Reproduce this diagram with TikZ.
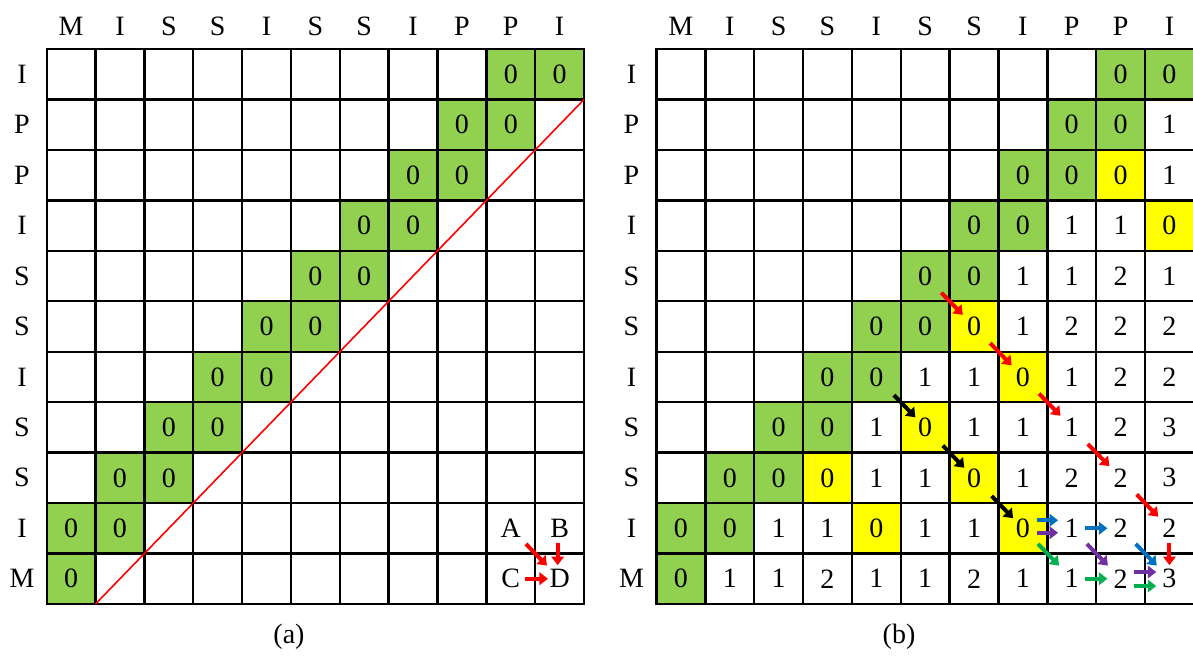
\documentclass[tikz,border=0pt]{standalone}
\usepackage{fontspec}
\setmainfont{Liberation Serif}
\usetikzlibrary{arrows.meta,calc}
\definecolor{cgreen}{HTML}{92D050}
\definecolor{cyellow}{HTML}{FFFF00}
\definecolor{ablue}{HTML}{0070C0}
\definecolor{apurple}{HTML}{7030A0}
\definecolor{agreen}{HTML}{00B050}
\definecolor{ared}{HTML}{FF0000}
\begin{document}
\begin{tikzpicture}[x=1pt,y=-1pt,
  cell/.style={draw=black, line width=2.4pt, minimum width=48.85pt, minimum height=50.45pt,
    inner sep=0pt, outer sep=0pt, font=\fontsize{28}{30}\selectfont},
  ve/.style={node contents={}},
  vg/.style={fill=cgreen, node contents={0}},
  vy/.style={fill=cyellow, node contents={0}},
  v1/.style={node contents={1}},
  v2/.style={node contents={2}},
  v3/.style={node contents={3}},
  vA/.style={node contents={A}},
  vB/.style={node contents={B}},
  vC/.style={node contents={C}},
  vD/.style={node contents={D}},
  lab/.style={font=\fontsize{28}{30}\selectfont, inner sep=0pt},
  arr/.style={line width=4pt, -{Triangle[width=12.5pt,length=8.5pt]}},
  diag/.style={ared, line width=1.6pt},
]
\useasboundingbox (0,0) rectangle (1193,656);
\def\cw{48.85}
\def\ch{50.45}
\def\yo{49}
% ---------- grid (a)
\def\xa{46.7}
\foreach \row [count=\r] in {
  {e,e,e,e,e,e,e,e,e,g,g},
  {e,e,e,e,e,e,e,e,g,g,e},
  {e,e,e,e,e,e,e,g,g,e,e},
  {e,e,e,e,e,e,g,g,e,e,e},
  {e,e,e,e,e,g,g,e,e,e,e},
  {e,e,e,e,g,g,e,e,e,e,e},
  {e,e,e,g,g,e,e,e,e,e,e},
  {e,e,g,g,e,e,e,e,e,e,e},
  {e,g,g,e,e,e,e,e,e,e,e},
  {g,g,e,e,e,e,e,e,e,A,B},
  {g,e,e,e,e,e,e,e,e,C,D}} {
  \foreach \v [count=\c] in \row {
    \node (a-\r-\c) at ({\xa+(\c-0.5)*\cw},{\yo+(\r-0.5)*\ch}) [cell, v\v];
  }
}
% ---------- grid (b)
\def\xb{656.5}
\foreach \row [count=\r] in {
  {e,e,e,e,e,e,e,e,e,g,g},
  {e,e,e,e,e,e,e,e,g,g,1},
  {e,e,e,e,e,e,e,g,g,y,1},
  {e,e,e,e,e,e,g,g,1,1,y},
  {e,e,e,e,e,g,g,1,1,2,1},
  {e,e,e,e,g,g,y,1,2,2,2},
  {e,e,e,g,g,1,1,y,1,2,2},
  {e,e,g,g,1,y,1,1,1,2,3},
  {e,g,g,y,1,1,y,1,2,2,3},
  {g,g,1,1,y,1,1,y,1,2,2},
  {g,1,1,2,1,1,2,1,1,2,3}} {
  \foreach \v [count=\c] in \row {
    \node (b-\r-\c) at ({\xb+(\c-0.5)*\cw},{\yo+(\r-0.5)*\ch}) [cell, v\v];
  }
}
% ---------- labels
\foreach \t [count=\c] in {M,I,S,S,I,S,S,I,P,P,I} {
  \node[lab] (ha-\c) at ({\xa+(\c-0.5)*\cw},26) {\t};
  \node[lab] (hb-\c) at ({\xb+(\c-0.5)*\cw},26) {\t};
}
\foreach \t [count=\r] in {I,P,P,I,S,S,I,S,S,I,M} {
  \node[lab] (ra-\r) at (22,{\yo+(\r-0.5)*\ch}) {\t};
  \node[lab] (rb-\r) at (631.5,{\yo+(\r-0.5)*\ch}) {\t};
}
\node[lab] (capa) at (289,637) {(a)};
\node[lab] (capb) at (899,637) {(b)};
% ---------- (a) diagonal line and arrows
\draw[diag] (a-11-1.south east) -- (a-1-11.south east);
\draw[arr, ared] ($(a-10-10)!0.31!(a-11-11)$) -- ($(a-10-10)!0.74!(a-11-11)$);
\draw[arr, ared] ($(a-10-11)!0.29!(a-11-11)+(-2,0)$) -- ($(a-10-11)!0.73!(a-11-11)+(-2,0)$);
\draw[arr, ared] ($(a-11-10)!0.29!(a-11-11)$) -- ($(a-11-10)!0.76!(a-11-11)$);
% ---------- (b) arrows
\foreach \r/\c/\rr/\cc in {5/6/6/7,6/7/7/8,7/8/8/9,8/9/9/10,9/10/10/11} {
  \draw[arr, ared] ($(b-\r-\c)!0.33!(b-\rr-\cc)$) -- ($(b-\r-\c)!0.77!(b-\rr-\cc)$);
}
\draw[arr, ared] ($(b-10-11)!0.3!(b-11-11)$) -- ($(b-10-11)!0.73!(b-11-11)$);
\foreach \r/\c/\rr/\cc in {7/5/8/6,8/6/9/7,9/7/10/8} {
  \draw[arr, black] ($(b-\r-\c)!0.36!(b-\rr-\cc)$) -- ($(b-\r-\c)!0.8!(b-\rr-\cc)$);
}
\draw[arr, ablue] ($(b-10-8)!0.28!(b-10-9)+(0,-8)$) -- ($(b-10-8)!0.72!(b-10-9)+(0,-8)$);
\draw[arr, apurple] ($(b-10-8)!0.28!(b-10-9)+(0,4.5)$) -- ($(b-10-8)!0.72!(b-10-9)+(0,4.5)$);
\draw[arr, ablue] ($(b-10-9)!0.28!(b-10-10)$) -- ($(b-10-9)!0.73!(b-10-10)$);
\draw[arr, agreen] ($(b-10-8)!0.31!(b-11-9)$) -- ($(b-10-8)!0.74!(b-11-9)$);
\draw[arr, apurple] ($(b-10-9)!0.31!(b-11-10)$) -- ($(b-10-9)!0.74!(b-11-10)$);
\draw[arr, ablue] ($(b-10-10)!0.31!(b-11-11)$) -- ($(b-10-10)!0.74!(b-11-11)$);
\draw[arr, agreen] ($(b-11-9)!0.28!(b-11-10)$) -- ($(b-11-9)!0.73!(b-11-10)$);
\draw[arr, apurple] ($(b-11-10)!0.28!(b-11-11)+(0,-6.7)$) -- ($(b-11-10)!0.73!(b-11-11)+(0,-6.7)$);
\draw[arr, agreen] ($(b-11-10)!0.28!(b-11-11)+(0,7.3)$) -- ($(b-11-10)!0.73!(b-11-11)+(0,7.3)$);
\end{tikzpicture}
\end{document}
